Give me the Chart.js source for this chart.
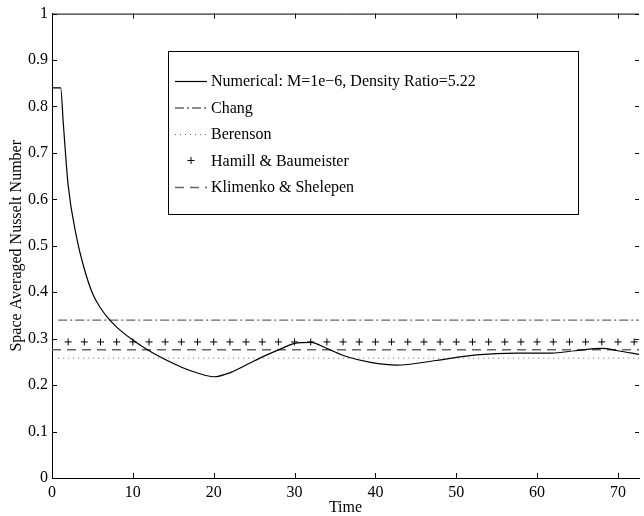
<!DOCTYPE html>
<html>
<head>
<meta charset="utf-8">
<script src="https://cdn.jsdelivr.net/npm/chart.js@4.4.1/dist/chart.umd.min.js"></script>
<style>
  html, body { margin: 0; padding: 0; background: #fff; }
  #wrap { width: 644px; height: 516px; }
</style>
</head>
<body>
<div id="wrap"><canvas id="graficoNusselt"></canvas></div>
<script>
// datos
const numT = [0, 1.07, 1.4, 2, 3, 4, 5, 6, 7, 8, 10, 12, 14, 16.1, 18, 20, 22.2, 24.3, 26.3, 28.3, 30, 32, 34.1, 36.5, 39.4, 42.6, 47.5, 52.5, 57.4, 61.8, 64.7, 68, 70, 72.6];
const numY = [0.84, 0.84, 0.763, 0.63, 0.522, 0.45, 0.398, 0.366, 0.343, 0.325, 0.297, 0.274, 0.255, 0.238, 0.226, 0.218, 0.228, 0.246, 0.263, 0.278, 0.29, 0.292, 0.278, 0.261, 0.249, 0.243, 0.253, 0.265, 0.269, 0.269, 0.274, 0.279, 0.274, 0.266];

const changT = [0.77, 72.6];
const changY = [0.34, 0.34];
const berensonT = [0.77, 72.6];
const berensonY = [0.258, 0.258];
const hamillT = [2, 4, 6, 8, 10, 12, 14, 16, 18, 20, 22, 24, 26, 28, 30, 32, 34, 36, 38, 40, 42, 44, 46, 48, 50, 52, 54, 56, 58, 60, 62, 64, 66, 68, 70, 72];
const hamillY = hamillT.map(() => 0.293);
const klimenkoT = [0, 72.6];
const klimenkoY = [0.276, 0.276];

const xTicks = [0, 10, 20, 30, 40, 50, 60, 70];
const yTicks = [0, 0.1, 0.2, 0.3, 0.4, 0.5, 0.6, 0.7, 0.8, 0.9, 1];

const etiquetas = ['Numerical: M=1e\u22126, Density Ratio=5.22', 'Chang', 'Berenson', 'Hamill & Baumeister', 'Klimenko & Shelepen'];

const toPts = (xs, ys) => xs.map((x, i) => ({ x: x, y: ys[i] }));
const FUENTE = 'Liberation Serif';
const GRIS = '#666';

// ticks hacia adentro en los cuatro lados
const marcoPlugin = {
    id: 'marco',
    afterDraw(chart) {
        const { ctx, chartArea: a, scales } = chart;
        ctx.save();
        ctx.strokeStyle = '#000';
        ctx.lineWidth = 1;
        ctx.beginPath();
        ctx.moveTo(a.left, a.top + 0.5);
        ctx.lineTo(a.right, a.top + 0.5);
        xTicks.forEach(v => {
            const px = Math.round(scales.x.getPixelForValue(v)) + 0.5;
            ctx.moveTo(px, a.bottom); ctx.lineTo(px, a.bottom - 5);
            ctx.moveTo(px, a.top); ctx.lineTo(px, a.top + 5);
        });
        yTicks.forEach(v => {
            const py = Math.round(scales.y.getPixelForValue(v)) + 0.5;
            ctx.moveTo(a.left, py); ctx.lineTo(a.left + 5, py);
            ctx.moveTo(a.right, py); ctx.lineTo(a.right - 4, py);
        });
        ctx.stroke();
        ctx.restore();
    }
};

// leyenda en caja dentro del grafico
const leyendaPlugin = {
    id: 'leyendaCaja',
    afterDraw(chart) {
        const ctx = chart.ctx;
        const box = { x: 168.5, y: 51.5, w: 410, h: 163 };
        ctx.save();
        ctx.fillStyle = '#fff';
        ctx.fillRect(box.x, box.y, box.w, box.h);
        ctx.strokeStyle = '#000';
        ctx.lineWidth = 1;
        ctx.strokeRect(box.x, box.y, box.w, box.h);
        ctx.font = '16px "' + FUENTE + '"';
        ctx.textBaseline = 'middle';
        chart.data.datasets.forEach((ds, i) => {
            const y = 81 + i * 26.5;
            const x0 = 175, x1 = 207;
            ctx.strokeStyle = ds.borderColor;
            ctx.lineWidth = ds.borderWidth;
            if (ds.showLine === false) {
                ctx.setLineDash([]);
                ctx.beginPath();
                ctx.moveTo(191 - 3.5, y); ctx.lineTo(191 + 3.5, y);
                ctx.moveTo(191, y - 3.5); ctx.lineTo(191, y + 3.5);
                ctx.strokeStyle = '#000';
                ctx.lineWidth = 1;
                ctx.stroke();
            } else {
                ctx.setLineDash(ds.borderDash || []);
                ctx.beginPath();
                ctx.moveTo(x0, y + 0.5); ctx.lineTo(x1, y + 0.5);
                ctx.stroke();
            }
            ctx.setLineDash([]);
            ctx.fillStyle = '#000';
            ctx.fillText(ds.label, 211, y + 1);
        });
        ctx.restore();
    }
};

document.addEventListener('DOMContentLoaded', () => {
    const graficoNusselt = document.getElementById('graficoNusselt');
    if (!graficoNusselt) return;

    new Chart(graficoNusselt, {
        type: 'line',
        data: {
            datasets: [{
                label: etiquetas[0],
                data: toPts(numT, numY),
                borderColor: '#000',
                borderWidth: 1.2,
                pointRadius: 0,
                cubicInterpolationMode: 'monotone'
            }, {
                label: etiquetas[1],
                data: toPts(changT, changY),
                borderColor: GRIS,
                borderWidth: 1.3,
                borderDash: [9, 3, 2, 3],
                pointRadius: 0
            }, {
                label: etiquetas[2],
                data: toPts(berensonT, berensonY),
                borderColor: GRIS,
                borderWidth: 1,
                borderDash: [1, 4],
                pointRadius: 0
            }, {
                label: etiquetas[3],
                data: toPts(hamillT, hamillY),
                showLine: false,
                borderColor: '#000',
                borderWidth: 1,
                pointStyle: 'cross',
                pointRadius: 3.5,
                pointBorderColor: '#000',
                pointBorderWidth: 1
            }, {
                label: etiquetas[4],
                data: toPts(klimenkoT, klimenkoY),
                borderColor: GRIS,
                borderWidth: 1.5,
                borderDash: [9, 6],
                pointRadius: 0
            }]
        },
        options: {
            responsive: true,
            maintainAspectRatio: false,
            animation: false,
            layout: { padding: { top: 11, right: 0, left: 0, bottom: 0 } },
            plugins: {
                legend: { display: false },
                tooltip: { enabled: false }
            },
            scales: {
                x: {
                    type: 'linear',
                    min: 0,
                    max: 72.6,
                    afterBuildTicks: s => { s.ticks = xTicks.map(v => ({ value: v })); },
                    afterFit: s => { s.height = 38; },
                    grid: { display: false, drawTicks: false },
                    border: { display: true, color: '#000', width: 1 },
                    ticks: { color: '#000', padding: 5, maxRotation: 0, font: { family: FUENTE, size: 16 } },
                    title: { display: true, text: 'Time', color: '#000', padding: { top: 0, bottom: -1 }, font: { family: FUENTE, size: 16 } }
                },
                y: {
                    min: 0,
                    max: 1,
                    afterBuildTicks: s => { s.ticks = yTicks.map(v => ({ value: v })); },
                    afterFit: s => { s.width = 52; },
                    grid: { display: false, drawTicks: false },
                    border: { display: true, color: '#000', width: 1 },
                    ticks: { color: '#000', padding: 4, font: { family: FUENTE, size: 16 }, callback: v => String(v) },
                    title: { display: true, text: 'Space Averaged Nusselt Number', color: '#000', padding: { top: 7, bottom: 0 }, font: { family: FUENTE, size: 16 } }
                }
            }
        },
        plugins: [marcoPlugin, leyendaPlugin]
    });
});
</script>
</body>
</html>
